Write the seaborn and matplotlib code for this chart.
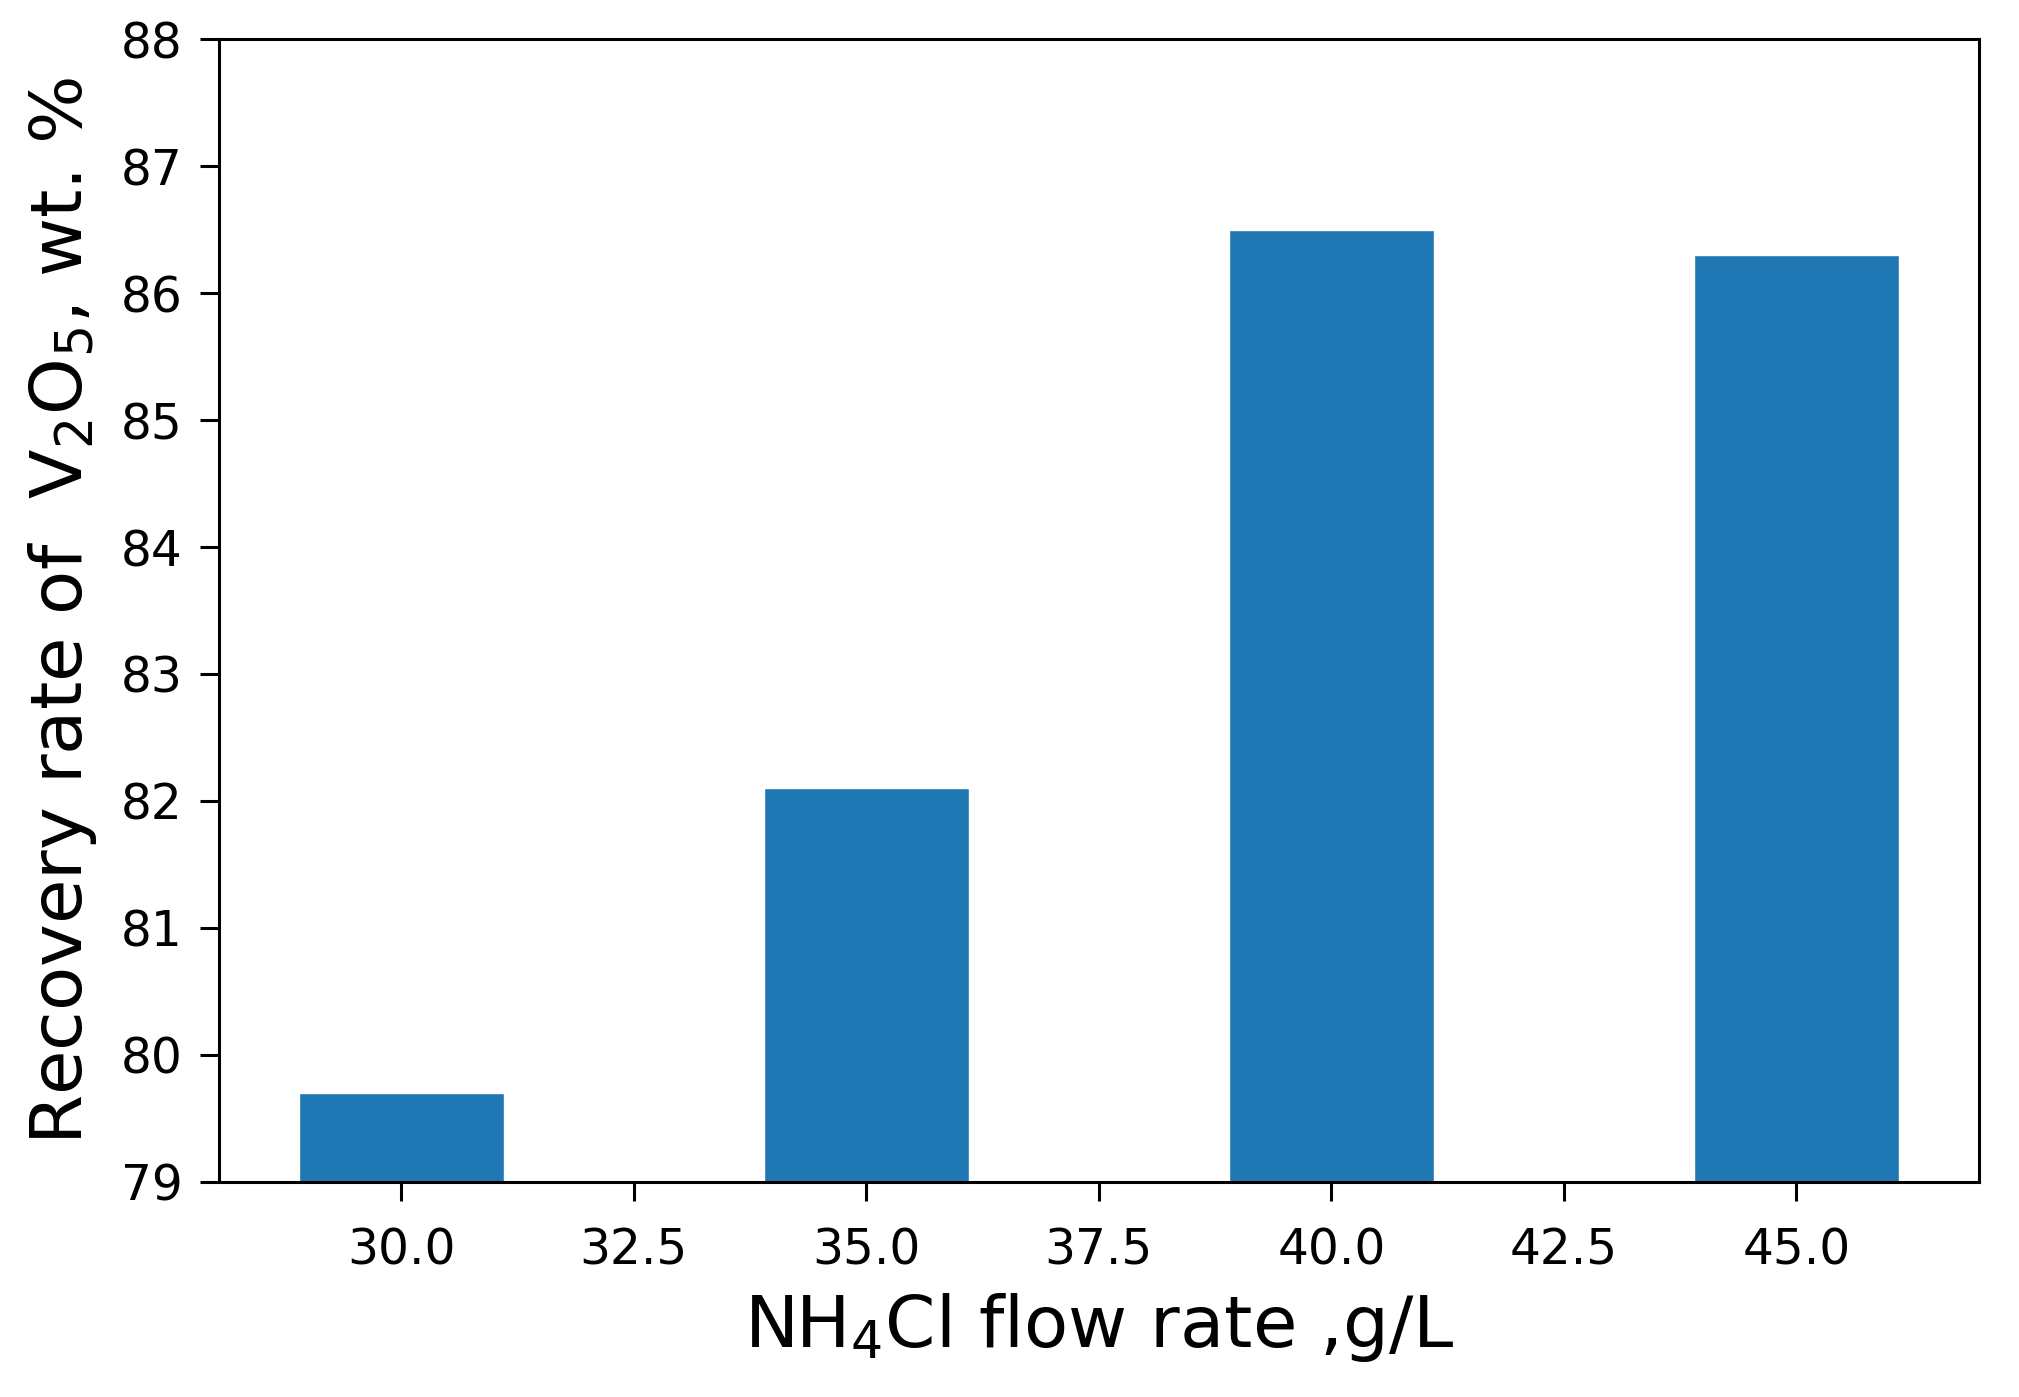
import matplotlib
matplotlib.use('Agg')
import matplotlib.pyplot as plt
import seaborn as sns
import pandas as pd

# data
flow_rate = [30.0, 35.0, 40.0, 45.0]
recovery = [79.7, 82.1, 86.5, 86.3]

df = pd.DataFrame({'flow': flow_rate, 'recovery': recovery})

sns.set_style('ticks')
plt.rcParams['font.family'] = ['DejaVu Sans']
plt.rcParams.update({'text.color': 'black', 'axes.labelcolor': 'black',
                     'xtick.color': 'black', 'ytick.color': 'black'})

fig = plt.figure(figsize=(20.19, 13.97), dpi=100)
ax = fig.add_axes([0.1085, 0.154, 0.8715, 0.818])

sns.barplot(data=df, x='flow', y='recovery', native_scale=True, width=0.44,
            color='#1f77b4', saturation=1, errorbar=None, ax=ax)

ax.set_ylim(79, 88)
ax.set_xlim(28.04, 46.96)
ax.set_xticks([30.0, 32.5, 35.0, 37.5, 40.0, 42.5, 45.0])
ax.set_xticklabels(['30.0', '32.5', '35.0', '37.5', '40.0', '42.5', '45.0'])

ax.set_xlabel('NH$_4$Cl flow rate ,g/L', fontsize=52, labelpad=12)
ax.set_ylabel('Recovery rate of  V$_2$O$_5$, wt. %', fontsize=52, labelpad=16)

ax.tick_params(axis='x', pad=18)
ax.tick_params(axis='both', labelsize=35, length=14, width=2.2, color='black')
ax.tick_params(axis='y', pad=12)
for s in ax.spines.values():
    s.set_linewidth(2.2)
    s.set_color('black')

fig.savefig('out.png', dpi=100)
